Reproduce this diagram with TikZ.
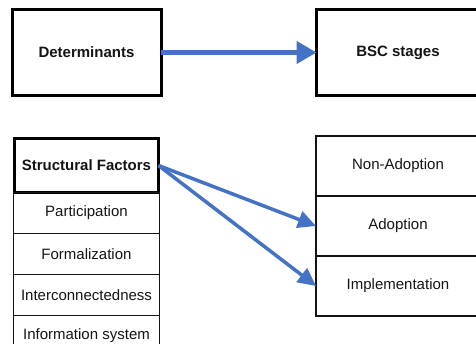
\documentclass[tikz,border=0pt]{standalone}
\usepackage{fontspec}
\setmainfont{Liberation Sans}
\usepackage{xcolor}
\usepackage{tikz}
\usetikzlibrary{arrows.meta, positioning, calc}
\definecolor{linkblue}{RGB}{68, 114, 196}
\definecolor{inkgray}{RGB}{20, 20, 20}

\begin{document}
\begin{tikzpicture}[
        x=1pt, y=1pt,
        mainbox/.style = {draw, black, line width=3pt, rectangle, outer sep=0pt, minimum height=86pt, align=center, font=\fontsize{15}{18}\selectfont\bfseries, text=inkgray},
        factorbox/.style = {draw, black, line width=3pt, rectangle, outer sep=0pt, minimum width=144pt, minimum height=54pt, font=\fontsize{15}{18}\selectfont\bfseries, text=inkgray},
        rowbox/.style = {draw, inkgray, line width=1.1pt, rectangle, outer sep=0pt, minimum width=146pt, minimum height=41pt, font=\fontsize{15}{18}\selectfont, text=inkgray},
        stagebox/.style = {draw, inkgray, line width=1.1pt, rectangle, outer sep=0pt, minimum width=164pt, minimum height=60pt, font=\fontsize{15}{18}\selectfont, text=inkgray},
        bigarrow/.style = {line width=4.5pt, linkblue, -{Triangle[length=20pt, width=22pt]}},
        arrow/.style = {line width=3.5pt, linkblue, -{Triangle[length=18pt, width=17pt]}}
    ]
        \clip (0,0) rectangle (476,-343);

        % Nodes
        \node [mainbox, minimum width=149pt] (det) at (86.5,-52.5) {Determinants};
        \node [mainbox, minimum width=163pt, right=155.5pt of det] (bsc) {BSC stages};

        \node [factorbox] (sf) at (86.5,-165.5) {Structural Factors};
        \node [rowbox, below=0pt of sf] (part) {Participation};
        \node [rowbox, below=0pt of part] (form) {Formalization};
        \node [rowbox, below=0pt of form] (inter) {Interconnectedness};
        \node [rowbox, below=0pt of inter] (info) {Information system};

        \node [stagebox] (nonad) at (398,-166) {Non-Adoption};
        \node [stagebox, below=0pt of nonad] (adopt) {Adoption};
        \node [stagebox, below=0pt of adopt] (impl) {Implementation};

        % Connectors
        \draw [bigarrow] (det) -- (bsc);
        \draw [arrow] (sf.east) -- (adopt.west);
        \draw [arrow] (sf.east) -- (impl.west);
    \end{tikzpicture}
\end{document}
